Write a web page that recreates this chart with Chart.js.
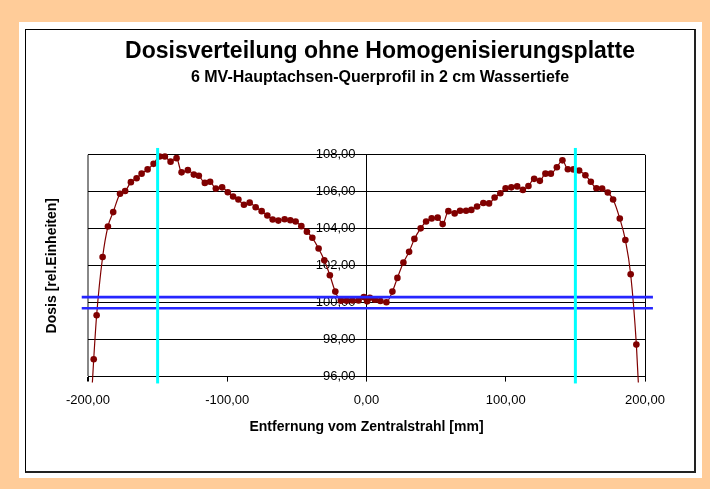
<!DOCTYPE html>
<html>
<head>
<meta charset="utf-8">
<script src="https://cdn.jsdelivr.net/npm/chart.js@4.4.1/dist/chart.umd.min.js"></script>
<style>
  body { margin: 0; background: #FFCC99; width: 710px; height: 489px; position: relative; overflow: hidden; }
  #paper { position: absolute; left: 19px; top: 22px; width: 683px; height: 456px; background: #fff; }
  #frame { position: absolute; left: 25px; top: 29px; width: 668px; height: 441px; border: 1px solid #000; border-right: 2px solid #222; border-bottom: 2px solid #222; }
  #wrap { position: absolute; left: 0; top: 0; width: 760px; height: 489px; }
</style>
</head>
<body>
<div id="paper"></div>
<div id="frame"></div>
<div id="wrap"><canvas id="doseChart"></canvas></div>
<script>
// distance from central ray [mm]
const distance = [
    -198.5, -195.9, -193.8, -189.5, -185.7, -181.9, -177.0, -173.3, -169.2, -165.1,
    -161.5, -157.2, -152.9, -148.6, -144.8, -140.7, -136.4, -132.8, -128.3, -124.0,
    -120.4, -116.1, -112.3, -108.2, -103.7, -99.6, -95.8, -92.0, -88.0, -83.9,
    -79.6, -75.3, -71.2, -67.4, -63.3, -58.8, -54.7, -50.9, -46.8, -42.8,
    -38.9, -34.4, -30.3, -26.3, -22.4, -18.4, -14.3, -10.0, -5.7, -1.9,
    0.5, 2.4, 6.0, 10.0, 14.3, 18.6, 22.2, 26.5, 30.6, 34.4,
    38.9, 42.8, 46.8, 51.1, 54.7, 58.8, 63.3, 67.2, 71.5, 75.3,
    79.4, 83.9, 88.0, 92.0, 96.1, 99.9, 104.0, 108.2, 112.3, 116.3,
    120.4, 124.5, 128.5, 132.4, 136.7, 140.7, 144.6, 148.6, 152.7, 157.2,
    161.1, 165.1, 169.2, 173.3, 177.1, 181.9, 185.9, 189.7, 193.8, 197.0
];
// relative dose
const dose = [
    93.5, 96.94, 99.32, 102.47, 104.12, 104.90, 105.89, 106.04, 106.52, 106.73,
    106.98, 107.21, 107.51, 107.91, 107.91, 107.63, 107.82, 107.05, 107.17, 106.93,
    106.87, 106.48, 106.54, 106.17, 106.24, 105.97, 105.74, 105.58, 105.30, 105.41,
    105.16, 104.95, 104.72, 104.50, 104.44, 104.51, 104.46, 104.39, 104.14, 103.84,
    103.51, 102.93, 102.29, 101.48, 100.60, 100.11, 100.10, 100.12, 100.12, 100.30,
    100.07, 100.27, 100.16, 100.09, 100.02, 100.60, 101.34, 102.17, 102.75, 103.45,
    104.02, 104.39, 104.56, 104.60, 104.25, 104.95, 104.83, 104.97, 104.97, 105.02,
    105.20, 105.39, 105.37, 105.69, 105.92, 106.19, 106.24, 106.29, 106.10, 106.31,
    106.70, 106.59, 106.98, 106.98, 107.33, 107.70, 107.22, 107.21, 107.15, 106.89,
    106.54, 106.19, 106.17, 105.96, 105.58, 104.55, 103.39, 101.54, 97.73, 93.0
];

// field edges and tolerance band
const fieldEdges = [-150, 150];
const edgeSpan = [95.63, 108.37];
const toleranceBand = [100.3, 99.7];
const bandSpan = [-204.5, 205.7];

const xTicks = [-200, -100, 0, 100, 200];
const fmt = v => v.toFixed(2).replace('.', ',');
const font = 'Liberation Sans, Arial, sans-serif';

const datasets = [{
    label: 'Dosis',
    data: distance.map((x, i) => ({ x: x, y: dose[i] })),
    borderColor: '#800000',
    backgroundColor: '#800000',
    borderWidth: 1.2,
    pointRadius: 3.3,
    pointBorderWidth: 0,
    cubicInterpolationMode: 'monotone',
    clip: { left: 4, right: 4, top: 4, bottom: 6 },
    order: 2
}];

fieldEdges.forEach(x => datasets.push({
    data: edgeSpan.map(y => ({ x: x, y: y })),
    borderColor: '#00FFFF',
    borderWidth: 3,
    pointRadius: 0,
    clip: false,
    order: 1
}));

toleranceBand.forEach(y => datasets.push({
    data: bandSpan.map(x => ({ x: x, y: y })),
    borderColor: '#2626FF',
    borderWidth: 2.6,
    pointRadius: 0,
    clip: false,
    order: 1
}));

new Chart(document.getElementById('doseChart'), {
    type: 'line',
    data: { datasets: datasets },
    options: {
        responsive: true,
        maintainAspectRatio: false,
        animation: false,
        layout: { padding: { top: 38, left: 0, right: 0, bottom: 53 } },
        plugins: {
            legend: { display: false },
            tooltip: { enabled: false },
            title: {
                display: true,
                text: 'Dosisverteilung ohne Homogenisierungsplatte',
                color: '#000',
                font: { family: font, size: 23, weight: 'bold' },
                padding: { top: 0, bottom: 2 }
            },
            subtitle: {
                display: true,
                text: '6 MV-Hauptachsen-Querprofil in 2 cm Wassertiefe',
                color: '#000',
                font: { family: font, size: 16, weight: 'bold' },
                padding: { top: 0, bottom: 68 }
            }
        },
        scales: {
            x: {
                type: 'linear',
                min: -200,
                max: 200,
                afterBuildTicks: axis => { axis.ticks = xTicks.map(v => ({ value: v })); },
                ticks: {
                    color: '#000',
                    font: { family: font, size: 13 },
                    padding: 11,
                    maxRotation: 0,
                    callback: v => fmt(v)
                },
                grid: {
                    drawOnChartArea: true,
                    color: c => (c.tick && Math.abs(c.tick.value) === 200) ? (c.tick.value < 0 ? '#888' : '#000') : 'rgba(0,0,0,0)',
                    tickColor: '#000',
                    tickLength: 5,
                    lineWidth: c => (c.tick && c.tick.value < -199) ? 2 : 1
                },
                border: { color: '#000', width: 1 },
                title: {
                    display: true,
                    text: 'Entfernung vom Zentralstrahl [mm]',
                    color: '#000',
                    font: { family: font, size: 14, weight: 'bold' },
                    padding: { top: 0, bottom: 0 }
                }
            },
            y: {
                type: 'linear',
                position: 'center',
                min: 96,
                max: 108,
                ticks: {
                    stepSize: 2,
                    color: '#000',
                    font: { family: font, size: 13 },
                    padding: 6,
                    callback: v => fmt(v)
                },
                grid: { color: '#000', lineWidth: 1, tickLength: 5 },
                border: { color: '#000', width: 1 }
            },
            yTitle: {
                type: 'linear',
                position: 'left',
                min: 96,
                max: 108,
                ticks: { display: false },
                grid: { display: false },
                border: { display: false },
                afterFit: scale => { scale.width = 88; },
                title: {
                    display: true,
                    text: 'Dosis [rel.Einheiten]',
                    color: '#000',
                    font: { family: font, size: 14, weight: 'bold' },
                    padding: { top: 44, bottom: 0 }
                }
            },
            yRight: {
                type: 'linear',
                position: 'right',
                min: 96,
                max: 108,
                ticks: { display: false },
                grid: { display: false },
                border: { display: false },
                afterFit: scale => { scale.width = 115; }
            }
        }
    }
});
</script>
</body>
</html>
